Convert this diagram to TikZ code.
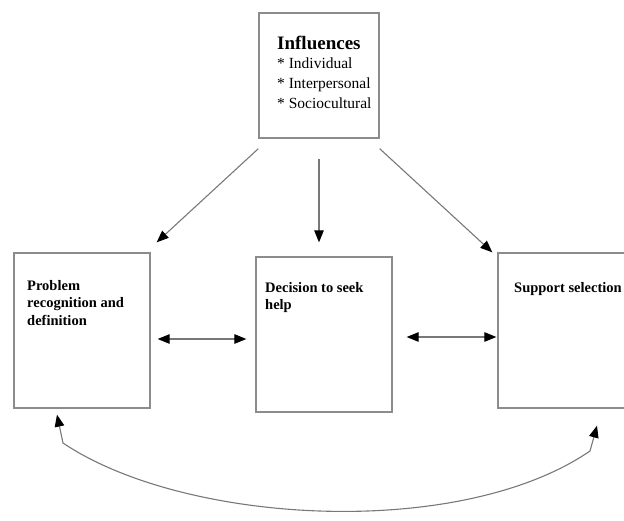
\documentclass[tikz,border=0pt]{standalone}
\usepackage{fontspec}
\setmainfont{Liberation Serif}
\usetikzlibrary{positioning, arrows.meta}
\definecolor{BoxGray}{RGB}{140, 140, 140}
\definecolor{LinkGray}{RGB}{120, 120, 120}

\tikzset{
  stagebox/.style={draw=BoxGray, line width=1.3pt, inner sep=0pt},
  stagetext/.style={anchor=north west, inner sep=0pt, align=left,
                    font=\fontsize{14.5}{17.5}\selectfont\bfseries},
  link/.style={draw=LinkGray, line width=1.1pt},
  tip/.style={-{Triangle[length=12pt, width=9.5pt, color=black]}},
  twoway/.style={{Triangle[length=12pt, width=9.5pt, color=black]}-{Triangle[length=12pt, width=9.5pt, color=black]}}
}

\begin{document}
\begin{tikzpicture}[x=1pt, y=-1pt]
    \useasboundingbox (0,0) rectangle (624,520);
    \clip (0,0) rectangle (624,520);

    % Boxes
    \node[stagebox, minimum width=120pt, minimum height=125pt] (infl) at (319,75.5) {};
    \node[stagebox, minimum width=136pt, minimum height=155pt] (problem) at (82,330.5) {};
    \node[stagebox, minimum width=136pt, minimum height=155pt] (decision) at (324,334.5) {};
    \node[stagebox, minimum width=132pt, minimum height=155pt] (support) at (564,330.5) {};

    % Box texts
    \node[anchor=north west, inner sep=0pt, font=\fontsize{19}{22}\selectfont\bfseries]
      (infltitle) at (277,36) {Influences};
    \node[anchor=north west, inner sep=0pt, align=left, font=\fontsize{15.5}{20}\selectfont]
      (infllist) at (277,58) {* Individual\\* Interpersonal\\* Sociocultural};
    \node[stagetext] (problemtext) at (27,280) {Problem\\recognition and\\definition};
    \node[stagetext] (decisiontext) at (265,282) {Decision to seek\\help};
    \node[stagetext] (supporttext) at (514,282) {Support selection};

    % Influence arrows
    \draw[link, tip] ([yshift=-10pt]infl.south west) -- ([shift={(6,-10)}]problem.north east);
    \draw[link, tip] ([yshift=-20pt]infl.south) -- ([yshift=14pt]infl.south |- decision.north);
    \draw[link, tip] ([yshift=-10pt]infl.south east) -- ([xshift=-5pt]support.north west);

    % Two-way arrows between stages
    \draw[link, twoway] ([shift={(7,8.5)}]problem.east) -- ([shift={(-9,4.5)}]decision.west);
    \draw[link, twoway] ([shift={(14,2.5)}]decision.east) -- ([shift={(-1,6.5)}]support.west);

    % Feedback loop
    \coordinate (loopL) at (63,443);
    \coordinate (loopR) at (590,451);
    \draw[link, twoway]
      ([shift={(-25,6)}]problem.south) -- (loopL)
      .. controls (185,525) and (460,540) .. (loopR)
      -- ([shift={(33,17)}]support.south);
\end{tikzpicture}
\end{document}
